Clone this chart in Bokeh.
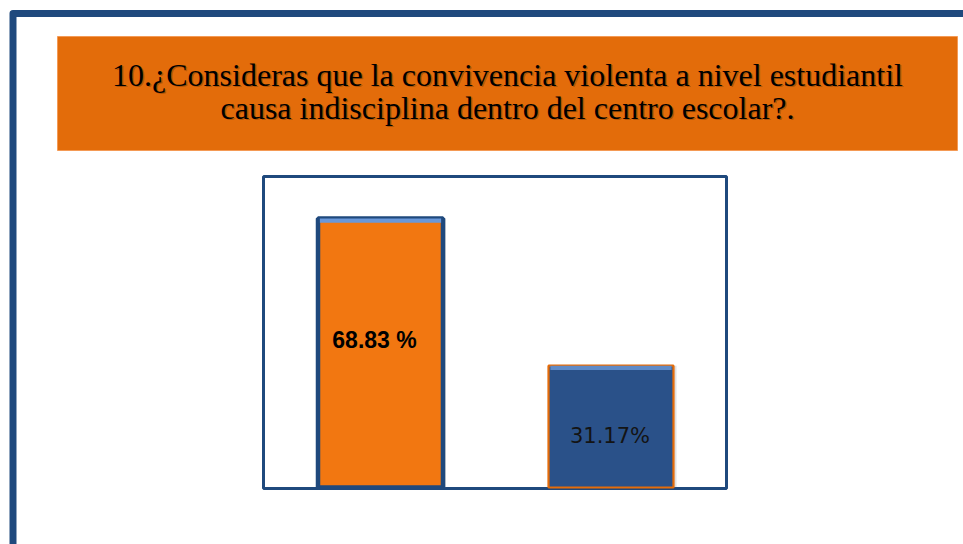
from bokeh.plotting import figure
from bokeh.models import Range1d, ColumnDataSource
from bokeh.core.properties import value
from bokeh.embed import file_html
from bokeh.resources import INLINE

# ---- data ----
categories = ["Sí", "No"]
percentages = [68.83, 31.17]
labels = ["68.83 %", "31.17%"]
title_lines = [
    "10.¿Consideras que la convivencia violenta a nivel estudiantil",
    "causa indisciplina dentro del centro escolar?.",
]

# ---- layout (pixel positions on the picture) ----
W, H = 963, 544
PX0, PY0 = 0, 0
box_l, box_r, box_t, box_b = 263, 726, 176, 488
zero_px = 487           # pixel row of value 0
px_per_unit = 3.908     # pixels per percentage point
x0_px = 380             # centre of first bar
x_step = 230.5          # distance between bar centres
bar_w_px = 125

p = figure(width=W, height=H, output_backend="svg", toolbar_location=None,
           x_axis_location=None, y_axis_location=None,
           x_range=Range1d(PX0, PX0 + W), y_range=Range1d(PY0 + H, PY0),
           min_border=0, background_fill_color="white",
           border_fill_color="white", outline_line_color=None)
p.grid.grid_line_color = None

# value ranges mapped onto the chart box
p.extra_y_ranges = {"val": Range1d((zero_px - (PY0 + H)) / px_per_unit,
                                   (zero_px - PY0) / px_per_unit)}
p.extra_x_ranges = {"cat": Range1d((PX0 - x0_px) / x_step,
                                   (PX0 + W - x0_px) / x_step)}
bw = bar_w_px / x_step

# outer slide frame
p.line(x=[12.5, 12.5, 970], y=[560, 13, 13], line_color="#1F497D",
       line_width=7, line_join="round")

# title box
p.quad(left=57, right=957, top=36, bottom=150, fill_color="#E36C0A",
       line_color="#F49A55", line_width=1)
tys = [74, 107]
for t, ty in zip(title_lines, tys):
    p.text(x=[508.5], y=[ty + 1.5], text=[t], text_font=value("Liberation Serif"),
           text_font_size="32px", text_align="center", text_baseline="alphabetic",
           text_color="#000000", text_alpha=0.22)
    p.text(x=[507], y=[ty], text=[t], text_font=value("Liberation Serif"),
           text_font_size="32px", text_align="center", text_baseline="alphabetic",
           text_color="#000000")

# chart box
p.quad(left=box_l, right=box_r, top=box_t, bottom=box_b, fill_color=None,
       line_color="#1F497D", line_width=3)

idx = list(range(len(categories)))
src = ColumnDataSource(dict(x=idx, top=percentages, cat=categories,
                            hl=[v - 1.1 for v in percentages],
                            shadow_x=[i + 3 / x_step for i in idx],
                            fill=["#F27711", "#2A5189"],
                            edge=["#1F497D", "#E46C0A"],
                            lw=[4.5, 2.2],
                            hi=["#6A98DA", "#5F8BC8"]))

# soft shadow
p.vbar(x="shadow_x", top="top", bottom=0, width=bw, source=src,
       fill_color="#888888", fill_alpha=0.25, line_color=None,
       x_range_name="cat", y_range_name="val")
# bars
p.vbar(x="x", top="top", bottom=0, width=bw, source=src,
       fill_color="fill", line_color="edge", line_width="lw",
       x_range_name="cat", y_range_name="val")
# bevel highlight on top
p.vbar(x="x", top="top", bottom="hl", width=bw * 0.97, source=src,
       fill_color="hi", line_color=None,
       x_range_name="cat", y_range_name="val")

# value labels
label_frac = [0.55, 0.42]
p.text(x=[idx[0]], y=[percentages[0] * label_frac[0]], text=[labels[0]],
       x_offset=-6, text_font=value("Liberation Sans"), text_font_style="bold",
       text_font_size="23px", text_align="center", text_baseline="middle",
       text_color="#000000", x_range_name="cat", y_range_name="val")
p.text(x=[idx[1]], y=[percentages[1] * label_frac[1]], text=[labels[1]],
       x_offset=-1, text_font=value("DejaVu Sans"),
       text_font_size="21px", text_align="center", text_baseline="middle",
       text_color="#141414", x_range_name="cat", y_range_name="val")

open("out.html", "w").write(file_html(p, INLINE))
